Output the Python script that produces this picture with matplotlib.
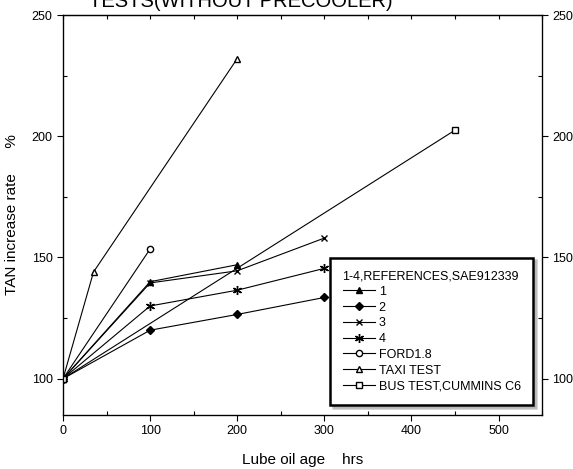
import matplotlib.pyplot as plt
from matplotlib.ticker import MultipleLocator
import numpy as np

plt.rcParams['font.family'] = ['Liberation Sans', 'DejaVu Sans']

# TAN increase (%) versus lube oil age (hrs)
hrs_ref = [0, 100, 200, 300]
tan_1 = [100, 140, 147]
tan_2 = [100, 120, 126.5, 133.5]
tan_3 = [100, 139.5, 144.5, 158]
tan_4 = [100, 130, 136.5, 145.5]
hrs_ford = [0, 100]
tan_ford = [100, 153.5]
hrs_taxi = [0, 35, 200]
tan_taxi = [100, 144, 232]
hrs_bus = [0, 450]
tan_bus = [100, 202.5]

fig = plt.figure(figsize=(5.73, 4.69), dpi=100)
ax = fig.add_axes([0.110, 0.115, 0.836, 0.853])

kw = dict(color='black', lw=0.8, markersize=5)
ax.plot(hrs_ref[:3], tan_1, marker='^', mfc='black', label='1', **kw)
ax.plot(hrs_ref, tan_2, marker='D', mfc='black', label='2', markersize=4.5,
        color='black', lw=0.8)
ax.plot(hrs_ref, tan_3, marker='x', label='3', **kw)
ax.plot(hrs_ref, tan_4, marker=(6, 2, 0), label='4', color='black', lw=0.8,
        markersize=6.5)
ax.plot(hrs_ford, tan_ford, marker='o', mfc='white', label='FORD1.8',
        color='black', lw=0.8, markersize=4.5)
ax.plot(hrs_taxi, tan_taxi, marker='^', mfc='white', label='TAXI TEST', **kw)
ax.plot(hrs_bus, tan_bus, marker='s', mfc='white', label='BUS TEST,CUMMINS C6',
        color='black', lw=0.8, markersize=4.5)

ax.set_xlim(0, 550)
ax.set_ylim(85, 250)
ax.xaxis.set_major_locator(MultipleLocator(100))
ax.xaxis.set_minor_locator(MultipleLocator(50))
ax.yaxis.set_major_locator(MultipleLocator(50))
ax.yaxis.set_minor_locator(MultipleLocator(25))
ax.tick_params(which='major', direction='out', length=4, width=0.8,
               labelsize=9, top=False, right=False)
ax.tick_params(which='minor', direction='in', length=3, width=0.8,
               top=False, right=False)
for s in ax.spines.values():
    s.set_linewidth(0.9)

# right-hand y axis and top tick marks
axr = ax.twinx()
axr.set_ylim(ax.get_ylim())
axr.yaxis.set_major_locator(MultipleLocator(50))
axr.yaxis.set_minor_locator(MultipleLocator(25))
axr.tick_params(which='major', direction='out', length=4, width=0.8, labelsize=9)
axr.tick_params(which='minor', direction='in', length=3, width=0.8)
axt = ax.secondary_xaxis('top')
axt.xaxis.set_major_locator(MultipleLocator(50))
axt.tick_params(direction='in', length=3, width=0.8, labelsize=0, labeltop=False)

ax.set_xlabel('Lube oil age    hrs', fontsize=11, labelpad=11)
ax.set_ylabel('TAN increase rate      %', fontsize=11, labelpad=9)

leg = ax.legend(title='1-4,REFERENCES,SAE912339', loc='lower right',
                bbox_to_anchor=(0.995, 0.01), fontsize=9, title_fontsize=9,
                handlelength=2.6, handletextpad=0.3, labelspacing=0.3,
                alignment='left', fancybox=False, shadow={'color': '0.6'},
                framealpha=1, borderpad=1.0)
leg.get_frame().set_edgecolor('black')
leg.get_frame().set_linewidth(1.8)

fig.text(0.42, 0.986, 'TESTS(WITHOUT PRECOOLER)', fontsize=14.5,
         ha='center', va='baseline')

fig.savefig('out.png', dpi=100)
